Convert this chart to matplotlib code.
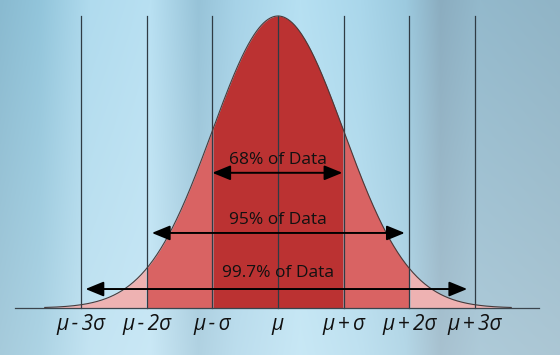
import numpy as np
import matplotlib
matplotlib.use("Agg")
import matplotlib.pyplot as plt
from matplotlib.colors import to_rgb

# data
sigma_pos = [-3, -2, -1, 0, 1, 2, 3]
tick_labels = ["μ - 3σ", "μ - 2σ", "μ - σ", "μ", "μ + σ", "μ + 2σ", "μ + 3σ"]
band_edges = [1, 2, 3.55]          # |x| in sigma units for each shaded band
band_colors = ["#bb3232", "#d96363", "#eeb2b2"]
spans = ["68% of Data", "95% of Data", "99.7% of Data"]
arrow_left = [-1.0, -1.92, -2.93]
arrow_right = [0.98, 1.93, 2.88]
arrow_y = [0.463, 0.257, 0.065]
text_y = [0.507, 0.302, 0.120]

plt.rcParams['font.family'] = ['Open Sans', 'DejaVu Sans']

fig = plt.figure(figsize=(5.6, 3.55), dpi=100)
ax = fig.add_axes([0, 0, 1, 1])
px = 65.7
x0, x1 = -278 / px, (560 - 278) / px
y0, y1 = -(355 - 308) / 292, 308 / 292
ax.set_xlim(x0, x1)
ax.set_ylim(y0, y1)
ax.axis("off")

# background gradient
stops = [(0, "#89bad0"), (40, "#92c5db"), (90, "#b0dbee"), (150, "#b8e0f2"),
         (198, "#97c3d8"), (235, "#a6d2e7"), (300, "#b6e0f2"), (360, "#aad7eb"),
         (405, "#9ccadf"), (440, "#8badc0"), (480, "#93b9cc"), (560, "#90b4c6")]
cols = np.arange(560)
sx = [s[0] for s in stops]
rgb = np.array([to_rgb(s[1]) for s in stops])
prof = np.stack([np.interp(cols, sx, rgb[:, k]) for k in range(3)], axis=1)
rows = np.linspace(0, 1, 355)[:, None, None]
img = prof[None, :, :] * (1 - 0.25 * rows) + 0.25 * rows
ax.imshow(img, extent=[x0, x1, y0, y1], aspect="auto", zorder=0, origin="upper")

# bell curve and bands
x = np.linspace(-3.55, 3.55, 600)
y = np.exp(-x ** 2 / 2)
inner = 0
for edge, c in zip(band_edges, band_colors):
    for sgn in (-1, 1):
        m = (sgn * x >= inner) & (sgn * x <= edge)
        ax.fill_between(x[m], 0, y[m], color=c, lw=0, zorder=1)
    inner = edge
ax.plot(x, y, color="#4a3a3a", lw=0.8, zorder=3)

# vertical lines and baseline
for s in sigma_pos:
    ax.plot([s, s], [0, 1.0], color="#2f3b44", lw=0.9, zorder=2)
ax.plot([-4.0, 3.97], [0, 0], color="#3a454d", lw=0.9, zorder=3)

# tick labels
for s, lab in zip(sigma_pos, tick_labels):
    ax.text(s, -0.058, lab.replace(" ", "\u2009"), ha="center", va="center",
            fontsize=15, style="italic", color="#111111", zorder=4)

# arrows and span labels
for t, xl, xr, ya, yt in zip(spans, arrow_left, arrow_right, arrow_y, text_y):
    ax.annotate("", xy=(xl, ya), xytext=(xr, ya),
                arrowprops=dict(arrowstyle="<|-|>,head_length=1.1,head_width=0.45",
                                color="black", lw=1.4, shrinkA=0, shrinkB=0), zorder=5)
    ax.text(0, yt, t, ha="center", va="center", fontsize=12.5, color="#111111", zorder=5)

fig.savefig("out.png", dpi=100)
